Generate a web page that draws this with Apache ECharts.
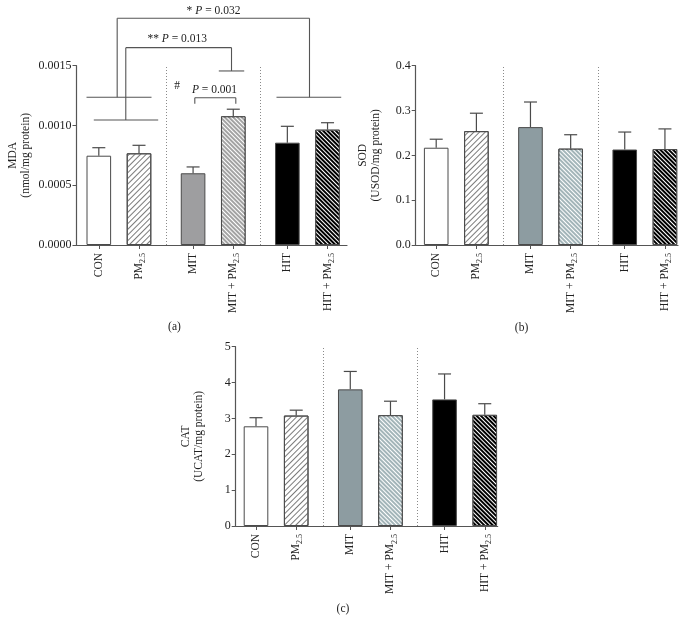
<!DOCTYPE html>
<html><head><meta charset="utf-8">
<script src="https://cdn.jsdelivr.net/npm/echarts@6/dist/echarts.min.js"></script>
<style>html,body{margin:0;padding:0;background:#fff}#c{width:693px;height:630px}</style>
</head><body><div id="c"></div>
<script>
// ---- data ----
const categories = ['CON', 'PM2.5', 'MIT', 'MIT + PM2.5', 'HIT', 'HIT + PM2.5'];
const groupIndex = [0, 0, 1, 1, 2, 2];
const memberIndex = [0, 1, 0, 1, 0, 1];
const mdaMean = [0.000747, 0.000767, 0.000600, 0.001077, 0.000856, 0.000965];
const mdaErr  = [0.000067, 0.000067, 0.000053, 0.000059, 0.000137, 0.000058];
const sodMean = [0.217, 0.254, 0.263, 0.215, 0.213, 0.214];
const sodErr  = [0.019, 0.040, 0.056, 0.031, 0.039, 0.045];
const catMean = [2.78, 3.08, 3.81, 3.09, 3.53, 3.10];
const catErr  = [0.24, 0.15, 0.50, 0.39, 0.71, 0.31];
const mdaTicks = ['0.0000', '0.0005', '0.0010', '0.0015'];
const sodTicks = ['0.0', '0.1', '0.2', '0.3', '0.4'];
const catTicks = ['0', '1', '2', '3', '4', '5'];
// significance annotations on panel (a), in data units [x1, y1, x2, y2]
const mdaBracketLines = [
  [-0.306, 0.001236, 1.311, 0.001236],
  [-0.125, 0.001046, 1.477, 0.001046],
  [0.457, 0.001236, 0.457, 0.001897],
  [0.457, 0.001897, 5.241, 0.001897],
  [5.241, 0.001897, 5.241, 0.001236],
  [4.420, 0.001236, 6.030, 0.001236],
  [0.671, 0.001046, 0.671, 0.001651],
  [0.671, 0.001651, 3.301, 0.001651],
  [3.301, 0.001651, 3.301, 0.001456],
  [2.985, 0.001456, 3.617, 0.001456],
  [2.388, 0.001182, 2.388, 0.001232],
  [2.388, 0.001232, 3.408, 0.001232],
  [3.408, 0.001232, 3.408, 0.001182]
];
const mdaBracketTexts = [
  [2.853, 0.001960, '* {i|P} = 0.032'],
  [1.950, 0.001723, '** {i|P} = 0.013'],
  [2.878, 0.001297, '{i|P} = 0.001'],
  [1.950, 0.001333, '#']
];

// ---- layout / style ----
const FONT = '"Liberation Serif", "Times New Roman", serif';
const TXT = '#222';
const AX = '#555';
const EDGE = '#4a4a4a';
const GROUP_STEP = 2.345;
const xPos = categories.map((c, i) => groupIndex[i] * GROUP_STEP + memberIndex[i]);
const separators = [(xPos[1] + xPos[2]) / 2, (xPos[3] + xPos[4]) / 2];

function stripe(color, dir, w, gap) {
  return { symbol: 'rect', symbolSize: 1, dashArrayX: [1, 0], dashArrayY: [w, gap], rotation: dir * Math.PI / 4, color: color };
}
function barStyles(key) {
  const mid = key === 'a' ? '#9e9ea0' : '#8d9ca1';
  const midPm = key === 'a' ? '#a3a3a3' : '#a3b5b9';
  return [
    { color: '#fff' },
    { color: '#fff', decal: stripe('#7a7a7a', -1, 0.9, 2.6) },
    { color: mid },
    { color: midPm, decal: stripe('#fff', 1, 0.9, 1.9) },
    { color: '#000' },
    { color: '#000', decal: stripe('#fff', 1, 1.0, 2.0) }
  ];
}
function labelFor(v) {
  let k = 0, best = 1e9;
  xPos.forEach((p, i) => { if (Math.abs(p - v) < best) { best = Math.abs(p - v); k = i; } });
  return categories[k].replace('2.5', '{sub|2.5}');
}

const panels = [
  { key: 'a', mean: mdaMean, err: mdaErr, ticks: mdaTicks, name: 'MDA\n(nmol/mg protein)', max: 0.0015, interval: 0.0005,
    grid: { left: 76.5, top: 65.7, width: 270.5, height: 179.3 }, xmin: -0.555, xmax: 6.174, nameGap: 44 },
  { key: 'b', mean: sodMean, err: sodErr, ticks: sodTicks, name: 'SOD\n(USOD/mg protein)', max: 0.4, interval: 0.1,
    grid: { left: 415.7, top: 65.7, width: 262.3, height: 179.3 }, xmin: -0.51, xmax: 6.015, nameGap: 33 },
  { key: 'c', mean: catMean, err: catErr, ticks: catTicks, name: 'CAT\n(UCAT/mg protein)', max: 5, interval: 1,
    grid: { left: 235.7, top: 346.7, width: 262, height: 179.3 }, xmin: -0.505, xmax: 6.012, nameGap: 30 }
];

const grids = [], xAxes = [], yAxes = [], series = [];
panels.forEach((p, i) => {
  grids.push(Object.assign({ containLabel: false, outerBoundsMode: 'none' }, p.grid));
  xAxes.push({
    gridIndex: i, type: 'value', min: p.xmin, max: p.xmax,
    splitLine: { show: false },
    axisLine: { show: true, onZero: false, lineStyle: { color: AX, width: 1.2 } },
    axisTick: { show: true, customValues: xPos, length: 4, lineStyle: { color: AX, width: 1 } },
    axisLabel: {
      customValues: xPos, rotate: 90, margin: 8, formatter: labelFor,
      color: TXT, fontFamily: FONT, fontSize: 11.5, lineHeight: 16,
      rich: { sub: { fontFamily: FONT, fontSize: 8, color: TXT, lineHeight: 16, verticalAlign: 'bottom' } }
    }
  });
  yAxes.push({
    gridIndex: i, type: 'value', min: 0, max: p.max, interval: p.interval,
    splitLine: { show: false },
    axisLine: { show: true, onZero: false, lineStyle: { color: AX, width: 1.2 } },
    axisTick: { show: true, length: 4, lineStyle: { color: AX, width: 1 } },
    axisLabel: { formatter: (v) => p.ticks[Math.round(v / p.interval)], color: TXT, fontFamily: FONT, fontSize: 12, margin: 5 },
    name: p.name, nameLocation: 'middle', nameGap: p.nameGap,
    nameTextStyle: { fontFamily: FONT, fontSize: 11.5, color: TXT, lineHeight: 13 }
  });
  const styles = barStyles(p.key);
  series.push({
    type: 'bar', xAxisIndex: i, yAxisIndex: i, barWidth: 24.6,
    data: categories.map((c, k) => ({
      value: [xPos[k], p.mean[k]],
      itemStyle: Object.assign({ borderColor: EDGE, borderWidth: 1 }, styles[k])
    })),
    markLine: {
      silent: true, symbol: 'none', label: { show: false },
      lineStyle: { type: [1, 2], color: '#8a8a8a', width: 1 },
      data: separators.map(s => ({ xAxis: s }))
    }
  });
  series.push({
    type: 'custom', xAxisIndex: i, yAxisIndex: i, z: 3,
    encode: { x: 0, y: 1 },
    data: categories.map((c, k) => [xPos[k], p.mean[k], p.err[k]]),
    renderItem: function (params, api) {
      const x = api.value(0), m = api.value(1), e = api.value(2);
      const p0 = api.coord([x, m]), p1 = api.coord([x, m + e]);
      const st = { stroke: EDGE, lineWidth: 1.2 };
      return { type: 'group', children: [
        { type: 'line', shape: { x1: p0[0], y1: p0[1], x2: p1[0], y2: p1[1] }, style: st },
        { type: 'line', shape: { x1: p1[0] - 6.5, y1: p1[1], x2: p1[0] + 6.5, y2: p1[1] }, style: st }
      ] };
    }
  });
});

// annotation brackets (panel a)
series.push({
  type: 'custom', xAxisIndex: 0, yAxisIndex: 0, z: 4, clip: false,
  encode: { x: 0, y: 1 },
  data: mdaBracketLines,
  renderItem: function (params, api) {
    const a = api.coord([api.value(0), api.value(1)]);
    const b = api.coord([api.value(2), api.value(3)]);
    return { type: 'line', shape: { x1: a[0], y1: a[1], x2: b[0], y2: b[1] }, style: { stroke: '#555', lineWidth: 1.1 } };
  }
});
series.push({
  type: 'custom', xAxisIndex: 0, yAxisIndex: 0, z: 4, clip: false,
  encode: { x: 0, y: 1 },
  data: mdaBracketTexts,
  renderItem: function (params, api) {
    const a = api.coord([api.value(0), api.value(1)]);
    return { type: 'text', x: a[0], y: a[1], style: {
      text: mdaBracketTexts[params.dataIndex][2], align: 'center', verticalAlign: 'middle',
      fontFamily: FONT, fontSize: 11.5, fill: TXT,
      rich: { i: { fontFamily: FONT, fontSize: 11.5, fontStyle: 'italic', fill: TXT } }
    } };
  }
});

const chart = echarts.init(document.getElementById('c'), null, { renderer: 'canvas' });
chart.setOption({
  animation: false,
  backgroundColor: '#fff',
  grid: grids, xAxis: xAxes, yAxis: yAxes, series: series,
  graphic: [
    { type: 'text', x: 174.5, y: 327, style: { text: '(a)', align: 'center', verticalAlign: 'middle', fontFamily: FONT, fontSize: 11.5, fill: TXT } },
    { type: 'text', x: 521.5, y: 328, style: { text: '(b)', align: 'center', verticalAlign: 'middle', fontFamily: FONT, fontSize: 11.5, fill: TXT } },
    { type: 'text', x: 343, y: 608.5, style: { text: '(c)', align: 'center', verticalAlign: 'middle', fontFamily: FONT, fontSize: 11.5, fill: TXT } }
  ]
});
</script></body></html>
